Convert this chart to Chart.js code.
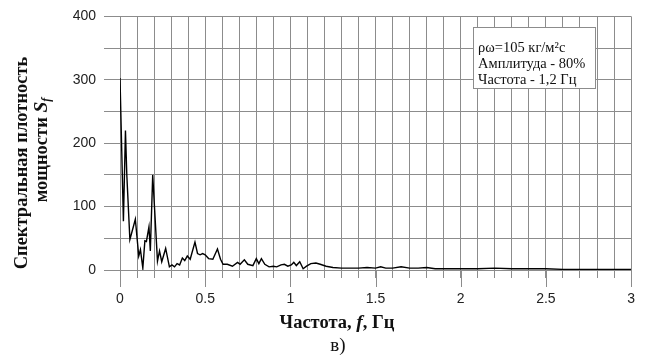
<!DOCTYPE html>
<html>
<head>
<meta charset="utf-8">
<script src="https://cdn.jsdelivr.net/npm/chart.js@4"></script>
<style>
  body { margin: 0; background: #fff; }
  #spectrumChart { display: block; }
</style>
</head>
<body>
<canvas id="spectrumChart" width="648" height="356"></canvas>
<script>
// частота, Гц
const freqs = [
  0.000, 0.020, 0.032, 0.040, 0.058, 0.070, 0.090, 0.110, 0.120, 0.134,
  0.146, 0.155, 0.170, 0.178, 0.192, 0.220, 0.232, 0.245, 0.268, 0.290,
  0.305, 0.320, 0.335, 0.350, 0.366, 0.380, 0.395, 0.412, 0.440, 0.455,
  0.470, 0.485, 0.500, 0.520, 0.545, 0.572, 0.590, 0.605, 0.630, 0.660,
  0.690, 0.705, 0.730, 0.750, 0.780, 0.800, 0.815, 0.830, 0.850, 0.875,
  0.900, 0.920, 0.945, 0.965, 0.985, 1.005, 1.020, 1.035, 1.055, 1.075,
  1.095, 1.120, 1.150, 1.175, 1.210, 1.250, 1.300, 1.350, 1.400, 1.450,
  1.500, 1.530, 1.560, 1.600, 1.650, 1.700, 1.750, 1.800, 1.850, 1.900,
  2.000, 2.100, 2.200, 2.300, 2.400, 2.500, 2.600, 2.700, 2.800, 2.900, 3.000
];
// спектральная плотность мощности Sf
const density = [
  303, 77, 220, 150, 48, 60, 80, 22, 32, 3,
  46, 45, 68, 30, 150, 14, 30, 13, 34, 5,
  8, 5, 10, 8, 19, 15, 22, 17, 44, 26,
  24, 26, 24, 18, 17, 33, 17, 9, 9, 6,
  12, 9, 16, 9, 7, 18, 10, 18, 9, 5,
  6, 5, 8, 9, 6, 8, 12, 7, 13, 2,
  6, 10, 11, 9, 6, 4, 3, 3, 3, 4,
  3, 5, 3, 3, 5, 3, 3, 4, 2, 2,
  2, 2, 3, 2, 2, 2, 1, 1, 1, 1, 1
];
const xMajorTicks = [0, 0.5, 1, 1.5, 2, 2.5, 3];
const yLabelTicks = [0, 100, 200, 300, 400];
const infoLines = ['ρω=105 кг/м²с', 'Амплитуда - 80%', 'Частота - 1,2 Гц'];

const serif = '"Liberation Serif", "Times New Roman", serif';
const sans = '"Liberation Sans", Arial, sans-serif';
const near = (a, b) => Math.abs(a - b) < 1e-6;

// текст из кусков с разным начертанием
function drawRuns(ctx, runs, cx, cy) {
  let total = 0;
  runs.forEach(r => { ctx.font = r.font; r.w = ctx.measureText(r.text).width; total += r.w; });
  let x = cx - total / 2;
  runs.forEach(r => {
    ctx.font = r.font;
    ctx.fillText(r.text, x, cy + (r.dy || 0));
    x += r.w;
  });
}

const decorations = {
  id: 'decorations',
  afterDraw(chart) {
    const ctx = chart.ctx;
    const xs = chart.scales.x, area = chart.chartArea;
    ctx.save();
    // длинные засечки на основных делениях
    ctx.strokeStyle = '#8c8c8c';
    ctx.lineWidth = 1;
    xMajorTicks.forEach(v => {
      const px = Math.round(xs.getPixelForValue(v)) + 0.5;
      ctx.beginPath();
      ctx.moveTo(px, area.bottom);
      ctx.lineTo(px, area.bottom + 17);
      ctx.stroke();
    });

    // блок с параметрами
    const bx = 473.5, by = 27.5, bw = 122, bh = 61;
    ctx.fillStyle = '#fff';
    ctx.fillRect(bx, by, bw, bh);
    ctx.strokeStyle = '#8c8c8c';
    ctx.strokeRect(bx, by, bw, bh);
    ctx.fillStyle = '#111';
    ctx.font = '14.5px ' + serif;
    ctx.textBaseline = 'alphabetic';
    ctx.textAlign = 'left';
    infoLines.forEach((t, i) => ctx.fillText(t, 478, 52 + i * 16));

    // подписи осей
    ctx.fillStyle = '#111';
    const b = 'bold 18.5px ' + serif, bi = 'italic bold 19.5px ' + serif, bs = 'italic bold 12px ' + serif;
    drawRuns(ctx, [
      { text: 'Частота, ', font: b },
      { text: 'f', font: bi },
      { text: ', Гц', font: b }
    ], 337, 328);
    drawRuns(ctx, [{ text: 'в)', font: '19px ' + serif }], 338, 351);

    ctx.save();
    ctx.translate(27, 163);
    ctx.rotate(-Math.PI / 2);
    drawRuns(ctx, [{ text: 'Спектральная плотность', font: b }], 0, 0);
    ctx.restore();
    ctx.save();
    ctx.translate(47, 150);
    ctx.rotate(-Math.PI / 2);
    drawRuns(ctx, [
      { text: 'мощности ', font: b },
      { text: 'S', font: bi },
      { text: 'f', font: bs, dy: 3 }
    ], 0, 0);
    ctx.restore();
    ctx.restore();
  }
};

new Chart(document.getElementById('spectrumChart').getContext('2d'), {
  type: 'line',
  data: {
    datasets: [{
      data: freqs.map((f, i) => ({ x: f, y: density[i] })),
      borderColor: '#000',
      borderWidth: 1.4,
      pointRadius: 0,
      tension: 0,
      fill: false
    }]
  },
  options: {
    responsive: false,
    animation: false,
    devicePixelRatio: 1,
    layout: { padding: { top: 14, right: 14, left: 0, bottom: 0 } },
    plugins: { legend: { display: false }, tooltip: { enabled: false }, title: { display: false } },
    scales: {
      x: {
        type: 'linear',
        min: 0, max: 3,
        afterFit: s => { s.height = 86; },
        grid: { color: '#8c8c8c', tickColor: '#8c8c8c', tickLength: 8, lineWidth: 1 },
        border: { display: false },
        ticks: {
          stepSize: 0.1,
          autoSkip: false,
          maxRotation: 0,
          padding: 13,
          color: '#222',
          font: { family: sans, size: 14 },
          callback: v => xMajorTicks.some(t => near(t, v)) ? String(Math.round(v * 10) / 10) : ''
        }
      },
      y: {
        min: 0, max: 400,
        afterFit: s => { s.width = 120; },
        grid: { color: '#8c8c8c', tickColor: '#8c8c8c', tickLength: 16, lineWidth: 1 },
        border: { display: false },
        ticks: {
          stepSize: 50,
          padding: 8,
          color: '#222',
          font: { family: sans, size: 14 },
          callback: v => yLabelTicks.includes(v) ? String(v) : ''
        }
      }
    }
  },
  plugins: [decorations]
});
</script>
</body>
</html>
